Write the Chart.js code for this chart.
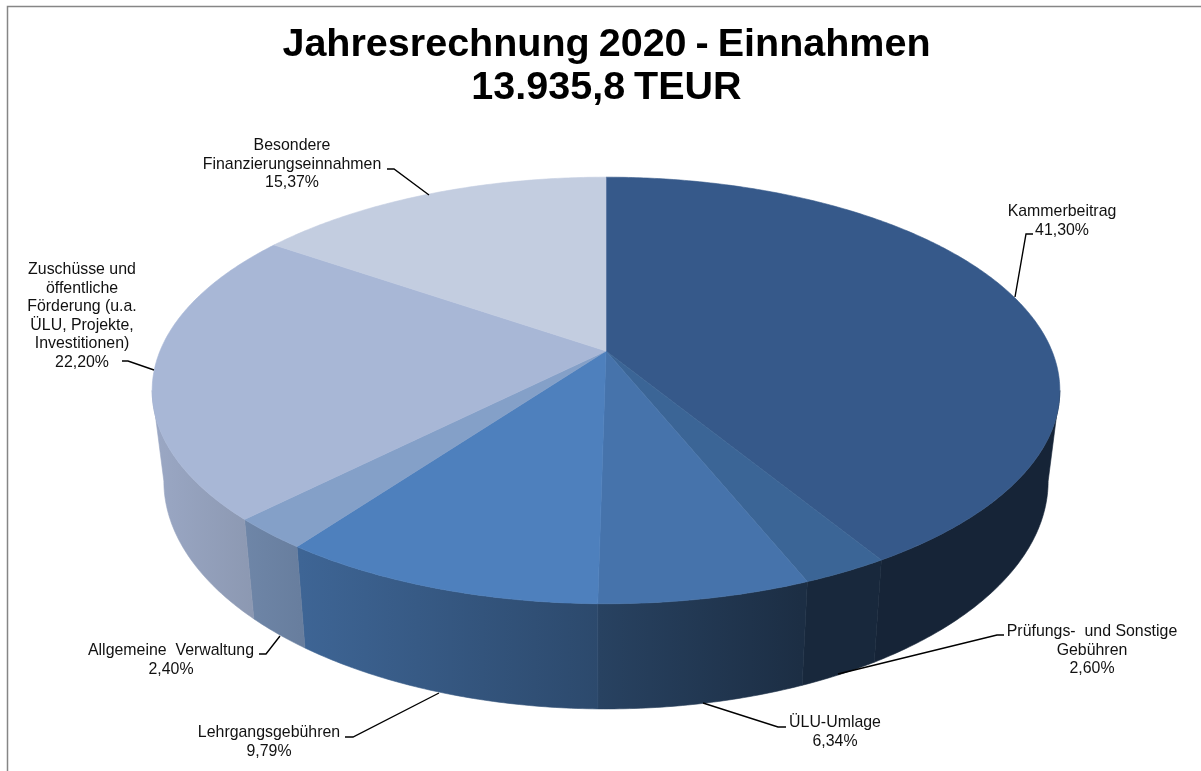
<!DOCTYPE html>
<html>
<head>
<meta charset="utf-8">
<title>Jahresrechnung 2020 - Einnahmen</title>
<script src="https://cdn.jsdelivr.net/npm/chart.js@4"></script>
<style>
  html,body{margin:0;padding:0;background:#fff;overflow:hidden}
  canvas{display:block}
</style>
</head>
<body>
<canvas id="chart" width="1201" height="771"></canvas>
<script>
const titleLines = ['Jahresrechnung 2020 - Einnahmen', '13.935,8 TEUR'];
const categories = ['Kammerbeitrag', 'Prüfungs- und Sonstige Gebühren', 'ÜLU-Umlage', 'Lehrgangsgebühren',
  'Allgemeine Verwaltung', 'Zuschüsse und öffentliche Förderung (u.a. ÜLU, Projekte, Investitionen)',
  'Besondere Finanzierungseinnahmen'];
const shares = [41.30, 2.60, 6.34, 9.79, 2.40, 22.20, 15.37];
const labelLines = [
  ['Kammerbeitrag'],
  ['Prüfungs-  und Sonstige', 'Gebühren'],
  ['ÜLU-Umlage'],
  ['Lehrgangsgebühren'],
  ['Allgemeine  Verwaltung'],
  ['Zuschüsse und', 'öffentliche', 'Förderung (u.a.', 'ÜLU, Projekte,', 'Investitionen)'],
  ['Besondere', 'Finanzierungseinnahmen']
];
const sliceColors = ['#36598a', '#3b6596', '#4673ab', '#4e80bd', '#84a0c8', '#a8b7d6', '#c3cde0'];

// label placement: centre x, first baseline, leader polyline
const labelPos = [
  {x:1062, y:216, leader:[[1033,234],[1026,234],[1015,297]]},
  {x:1092, y:636, leader:[[1004,635],[997,635],[838,674]]},
  {x:835, y:727, leader:[[786,727],[778,727],[703,703]]},
  {x:269, y:737, leader:[[345,737],[353,737],[439,693]]},
  {x:171, y:655, leader:[[259,654],[266,654],[280,636]]},
  {x:82, y:274, leader:[[122,361],[128,361],[154,370]]},
  {x:292, y:150, leader:[[387,169],[394,169],[429,195]]}
];

// perspective of the pie disc: top face and bottom face
const topFace = {x:606, y:351, a:446, b:206, p:0.185};
const botFace = {x:606, y:439, a:434.5, b:220, p:0.185};
// wall brightness by screen x
const wallShade = [[150,0.92],[300,0.79],[600,0.57],[800,0.40],[1060,0.40]];

function project(f, ang){
  const u = Math.cos(ang), v = Math.sin(ang), w = 1 - f.p*v;
  return [f.x + f.a*u/w, f.y + f.b*v/w];
}
function arcPts(f, a0, a1){
  const n = Math.max(2, Math.ceil((a1-a0)/0.01)), pts = [];
  for(let i=0;i<=n;i++) pts.push(project(f, a0+(a1-a0)*i/n));
  return pts;
}
function rgb(hex){ return [1,3,5].map(i=>parseInt(hex.substr(i,2),16)); }
function wallFill(ctx, hex){
  const g = ctx.createLinearGradient(150,0,1060,0), c = rgb(hex);
  wallShade.forEach(s=>{
    g.addColorStop((s[0]-150)/910, `rgb(${c.map(v=>Math.round(v*s[1])).join(',')})`);
  });
  return g;
}
function tracePoly(ctx, pts){
  ctx.beginPath();
  pts.forEach((p,i)=> i ? ctx.lineTo(p[0],p[1]) : ctx.moveTo(p[0],p[1]));
  ctx.closePath();
}

const pie3d = {
  id:'pie3d',
  beforeDraw(chart){
    const ctx = chart.ctx;
    ctx.save();
    ctx.fillStyle = '#fff';
    ctx.fillRect(0,0,chart.width,chart.height);
    ctx.strokeStyle = '#868686';
    ctx.lineWidth = 1.5;
    ctx.beginPath();
    ctx.moveTo(7.5,chart.height); ctx.lineTo(7.5,6.5); ctx.lineTo(chart.width,6.5);
    ctx.stroke();
    ctx.restore();
    ctx.wordSpacing = '-2px'; // title spaces are tight in the original
  },
  // library computed the slice angles, we only project them on the tilted disc
  beforeDatasetsDraw(chart){
    const ctx = chart.ctx, arcs = chart.getDatasetMeta(0).data;
    const front0 = Math.asin(topFace.p), front1 = Math.PI - front0; // visible part of the wall
    ctx.save();
    ctx.lineJoin = 'round';
    arcs.forEach(arc=>{
      const a0 = Math.max(arc.startAngle, front0), a1 = Math.min(arc.endAngle, front1);
      if(a0 >= a1) return;
      const t = arcPts(topFace, a0, a1);
      const b = arcPts(botFace, a0, a1).reverse();
      const fill = wallFill(ctx, arc.options.backgroundColor);
      tracePoly(ctx, t.concat(b));
      ctx.fillStyle = fill; ctx.strokeStyle = fill; ctx.lineWidth = 0.6;
      ctx.fill(); ctx.stroke();
    });
    arcs.forEach(arc=>{
      const col = arc.options.backgroundColor;
      tracePoly(ctx, [[topFace.x,topFace.y]].concat(arcPts(topFace, arc.startAngle, arc.endAngle)));
      ctx.fillStyle = col; ctx.strokeStyle = col; ctx.lineWidth = 0.6;
      ctx.fill(); ctx.stroke();
    });
    ctx.restore();
    return false;
  },
  afterDraw(chart){
    const ctx = chart.ctx;
    ctx.wordSpacing = '0px';
    ctx.save();
    ctx.font = '15.9px "Liberation Sans", Arial, sans-serif';
    ctx.textAlign = 'center';
    ctx.fillStyle = '#111';
    ctx.strokeStyle = '#000';
    ctx.lineWidth = 1.4;
    labelPos.forEach((pos,i)=>{
      const lines = labelLines[i].concat(shares[i].toFixed(2).replace('.',',')+'%');
      lines.forEach((s,k)=> ctx.fillText(s, pos.x, pos.y + k*18.6));
      ctx.beginPath();
      pos.leader.forEach((p,k)=> k ? ctx.lineTo(p[0],p[1]) : ctx.moveTo(p[0],p[1]));
      ctx.stroke();
    });
    ctx.restore();
  }
};

new Chart(document.getElementById('chart'), {
  type:'pie',
  data:{
    labels:categories,
    datasets:[{data:shares, backgroundColor:sliceColors, borderWidth:0}]
  },
  options:{
    responsive:false,
    animation:false,
    layout:{padding:{left:12,top:16}},
    plugins:{
      legend:{display:false},
      tooltip:{enabled:false},
      title:{
        display:true,
        text:titleLines,
        color:'#000',
        padding:{top:8,bottom:8},
        font:{family:'"Liberation Sans", Arial, sans-serif', size:39.5, weight:'bold', lineHeight:1.08}
      }
    }
  },
  plugins:[pie3d]
});
</script>
</body>
</html>
